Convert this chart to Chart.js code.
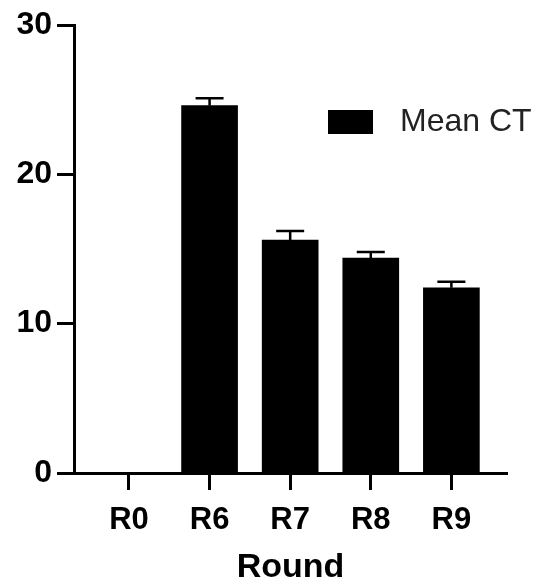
<!DOCTYPE html>
<html>
<head>
<meta charset="utf-8">
<script src="https://cdn.jsdelivr.net/npm/chart.js@4.4.1/dist/chart.umd.min.js"></script>
<style>
    html, body { margin: 0; padding: 0; background: #fff; }
    #wrap { width: 541px; height: 585px; }
</style>
</head>
<body>
<div id="wrap"><canvas id="myChart" width="541" height="585"></canvas></div>
<script>
const categories = ['R0', 'R6', 'R7', 'R8', 'R9'];
const meanCT = [0, 24.6, 15.6, 14.4, 12.4];
const errCT = [0, 0.5, 0.6, 0.4, 0.4];
const yTicks = [0, 10, 20, 30];

const FONT = 'Liberation Sans, Arial, sans-serif';

// error bars, from the data through the y scale
const errorBars = {
    id: 'errorBars',
    afterDatasetsDraw(chart) {
        const ctx = chart.ctx;
        const y = chart.scales.y;
        const meta = chart.getDatasetMeta(0);
        ctx.save();
        ctx.strokeStyle = '#000';
        ctx.lineWidth = 2.5;
        meta.data.forEach((bar, i) => {
            if (!errCT[i]) return;
            const top = y.getPixelForValue(meanCT[i] + errCT[i]);
            const base = y.getPixelForValue(meanCT[i]);
            ctx.beginPath();
            ctx.moveTo(bar.x, base);
            ctx.lineTo(bar.x, top);
            ctx.moveTo(bar.x - 14, top);
            ctx.lineTo(bar.x + 14, top);
            ctx.stroke();
        });
        ctx.restore();
    }
};

// legend inside the plot, Prism style
const insideLegend = {
    id: 'insideLegend',
    afterDraw(chart) {
        const ctx = chart.ctx;
        const area = chart.chartArea;
        const ds = chart.data.datasets[0];
        const bx = area.left + 254, by = area.top + 85;
        ctx.save();
        ctx.fillStyle = ds.backgroundColor;
        ctx.fillRect(bx, by, 45, 24);
        ctx.fillStyle = '#222';
        ctx.font = '32px ' + FONT;
        ctx.textBaseline = 'middle';
        ctx.fillText(ds.label, bx + 72, by + 12);
        ctx.restore();
    }
};

const ctx = document.getElementById('myChart').getContext('2d');
new Chart(ctx, {
    type: 'bar',
    data: {
        datasets: [{
            label: 'Mean CT',
            data: categories.map((c, i) => ({ x: i, y: meanCT[i] })),
            backgroundColor: '#000',
            borderColor: '#000',
            borderWidth: 0,
            barThickness: 56
        }]
    },
    options: {
        responsive: false,
        animation: false,
        layout: { padding: { top: 25, right: 34, left: 0, bottom: 0 } },
        plugins: {
            legend: { display: false },
            tooltip: { enabled: false }
        },
        scales: {
            x: {
                type: 'linear',
                offset: false,
                min: -0.682,
                max: 4.69,
                afterBuildTicks: s => { s.ticks = categories.map((c, i) => ({ value: i })); },
                afterFit: s => { s.height = 112; },
                ticks: {
                    callback: v => categories[v],
                    color: '#000',
                    padding: 12,
                    font: { family: FONT, size: 31, weight: 'bold' }
                },
                grid: { offset: false, drawOnChartArea: false, tickLength: 17, tickWidth: 3, tickColor: '#000' },
                border: { color: '#000', width: 3 },
                title: {
                    display: true,
                    text: 'Round',
                    color: '#000',
                    padding: { top: 0, bottom: 0 },
                    font: { family: FONT, size: 34, weight: 'bold', lineHeight: 1.0 }
                }
            },
            y: {
                min: 0,
                max: 30,
                afterBuildTicks: s => { s.ticks = yTicks.map(v => ({ value: v })); },
                afterFit: s => { s.width = 74; },
                ticks: {
                    color: '#000',
                    padding: 5,
                    font: { family: FONT, size: 32, weight: 'bold' }
                },
                grid: { drawOnChartArea: false, tickLength: 17, tickWidth: 3, tickColor: '#000' },
                border: { color: '#000', width: 3 }
            }
        }
    },
    plugins: [errorBars, insideLegend]
});
</script>
</body>
</html>
